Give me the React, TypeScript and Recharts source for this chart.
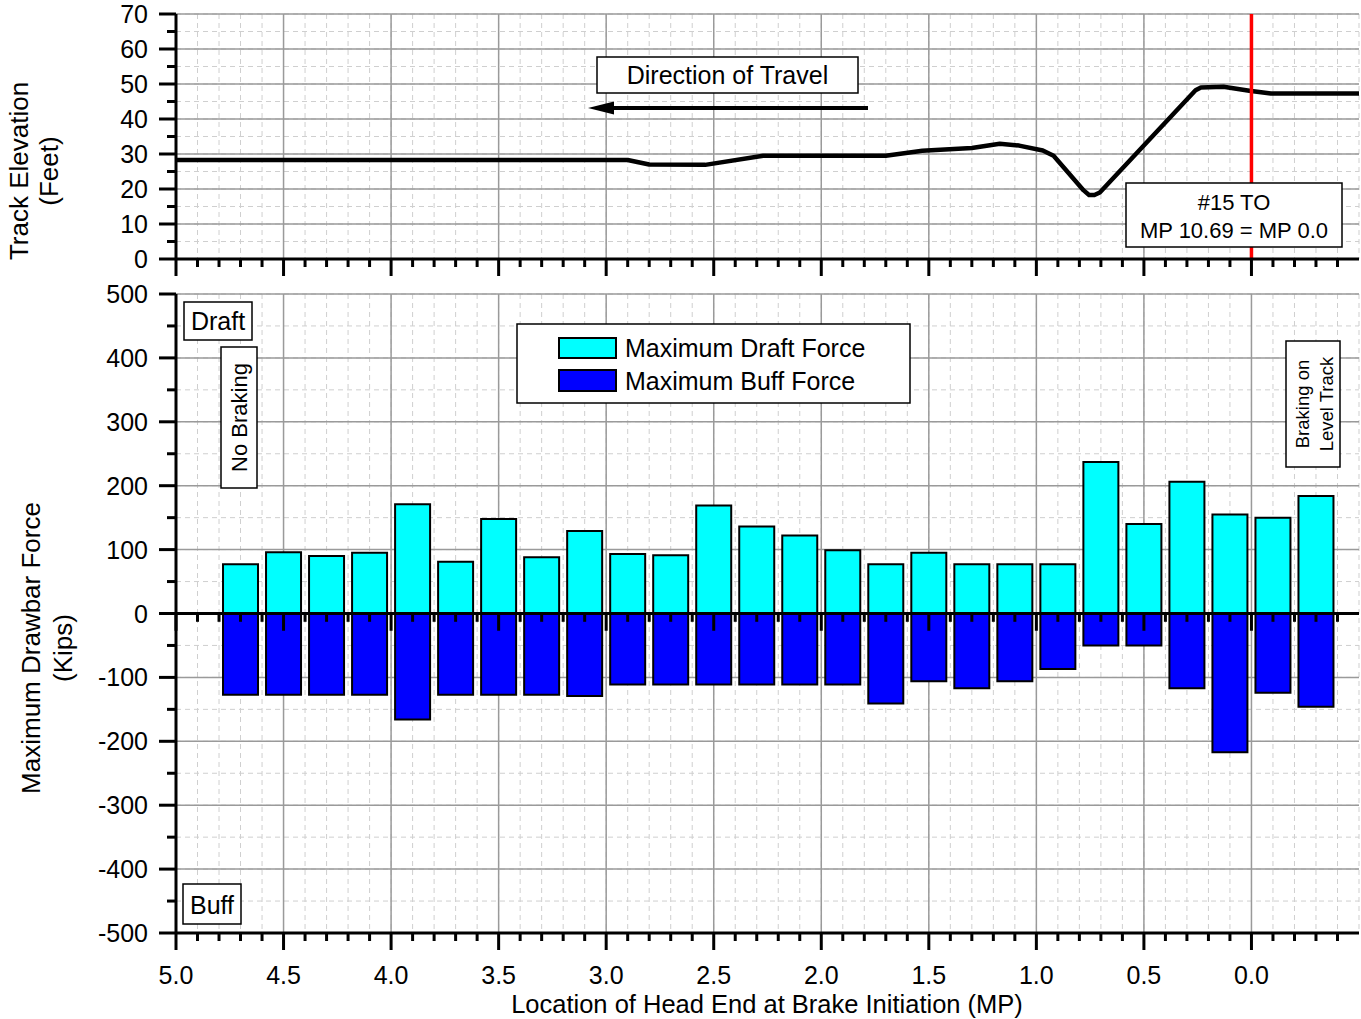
import React from 'react';
import {
  Bar,
  CartesianGrid,
  ComposedChart,
  Line,
  ReferenceLine,
  XAxis,
  YAxis,
} from 'recharts';

// Track profile (MP, feet)
const elevMp = [5.0, 2.9, 2.8, 2.54, 2.27, 1.7, 1.53, 1.3, 1.17, 1.08, 0.97, 0.92, 0.78, 0.755, 0.73, 0.705, 0.26, 0.235, 0.13, 0.01, -0.09, -0.5];
const elevFt = [28.3, 28.3, 27.0, 26.9, 29.5, 29.5, 30.9, 31.7, 32.9, 32.4, 31.0, 29.5, 19.6, 18.3, 18.3, 19.0, 48.2, 49.0, 49.2, 48.1, 47.3, 47.3];

// Drawbar forces at each brake initiation point (MP, kips)
const barMp = [4.7, 4.5, 4.3, 4.1, 3.9, 3.7, 3.5, 3.3, 3.1, 2.9, 2.7, 2.5, 2.3, 2.1, 1.9, 1.7, 1.5, 1.3, 1.1, 0.9, 0.7, 0.5, 0.3, 0.1, -0.1, -0.3];
const draft = [77, 96, 90, 95, 171, 81, 148, 88, 129, 93, 91, 169, 136, 122, 99, 77, 95, 77, 77, 77, 237, 140, 206, 155, 150, 184];
const buff = [-127, -127, -127, -127, -166, -127, -127, -127, -129, -111, -111, -111, -111, -111, -111, -141, -106, -117, -106, -87, -50, -50, -117, -217, -124, -146];

// ticks
const xTicks = Array.from({ length: 55 }, (_, i) => Math.round(50 - i) / 10); // 5.0 .. -0.4
const xMajor = [5, 4.5, 4, 3.5, 3, 2.5, 2, 1.5, 1, 0.5, 0];
const elevTicks = [0, 5, 10, 15, 20, 25, 30, 35, 40, 45, 50, 55, 60, 65, 70];
const elevMajor = [0, 10, 20, 30, 40, 50, 60, 70];
const forceTicks = Array.from({ length: 21 }, (_, i) => -500 + i * 50);
const forceMajor = [-500, -400, -300, -200, -100, 0, 100, 200, 300, 400, 500];

const FONT = '"Liberation Sans", Arial, sans-serif';
const W = 1361;

const elevData = elevMp.map((mp, i) => ({ mp, ft: elevFt[i] }));
const barData = barMp.map((mp, i) => ({ mp, draft: draft[i], buff: buff[i] }));

const isMajorX = (v: number) => Math.abs(v * 2 - Math.round(v * 2)) < 1e-6;

// map a value through an axis scale handed to a grid generator
function toPx(axis: any, v: number): number | undefined {
  const s = axis?.scale;
  if (typeof s === 'function') return s(v);
  if (s && typeof s.map === 'function') return s.map(v);
  return undefined;
}

function majorGrid(xs: number[], ys: number[], xDom: [number, number], yDom: [number, number]) {
  return {
    verticalCoordinatesGenerator: ({ xAxis, offset }: any) =>
      xs.map((v) => {
        const p = toPx(xAxis, v);
        return p ?? offset.left + ((xDom[1] - v) / (xDom[1] - xDom[0])) * offset.width;
      }),
    horizontalCoordinatesGenerator: ({ yAxis, offset }: any) =>
      ys.map((v) => {
        const p = toPx(yAxis, v);
        return p ?? offset.top + ((yDom[1] - v) / (yDom[1] - yDom[0])) * offset.height;
      }),
  };
}

function XTick(props: any) {
  const { x, y, payload, labels } = props;
  const v = payload.value as number;
  const major = isMajorX(v);
  return (
    <g>
      <line x1={x} y1={y} x2={x} y2={y + (major ? 17 : 8)} stroke="#000" strokeWidth={3} />
      {labels && major && v >= 0 ? (
        <text x={x} y={y + 51} textAnchor="middle" fontSize={25} fontFamily={FONT} fill="#000">
          {v.toFixed(1)}
        </text>
      ) : null}
    </g>
  );
}

function YTick(props: any) {
  const { x, y, payload, step } = props;
  const v = payload.value as number;
  const major = v % step === 0;
  return (
    <g>
      <line x1={x - (major ? 17 : 9)} y1={y} x2={x} y2={y} stroke="#000" strokeWidth={3} />
      {major ? (
        <text x={x - 28} y={y} dy="0.36em" textAnchor="end" fontSize={25} fontFamily={FONT} fill="#000">
          {v}
        </text>
      ) : null}
    </g>
  );
}

const axisLine = { stroke: '#000', strokeWidth: 3 };

function ElevationPanel() {
  return (
    <ComposedChart width={W} height={280} data={elevData} margin={{ top: 14, right: 2, bottom: 0, left: 116 }}>
      <CartesianGrid stroke="#cfcfcf" strokeDasharray="5 4" />
      <CartesianGrid stroke="#9a9a9a" strokeWidth={1.5} {...majorGrid(xMajor, elevMajor, [-0.5, 5], [0, 70])} />
      <XAxis
        dataKey="mp"
        type="number"
        domain={[-0.5, 5]}
        reversed
        allowDataOverflow
        ticks={xTicks}
        interval={0}
        height={21}
        tickSize={0}
        tickMargin={0}
        tickLine={false}
        axisLine={axisLine}
        tick={(p: any) => <XTick {...p} labels={false} />}
      />
      <XAxis xAxisId="top" orientation="top" type="number" domain={[-0.5, 5]} height={0} tick={false} tickLine={false} axisLine={axisLine} />
      <YAxis
        type="number"
        domain={[0, 70]}
        allowDataOverflow
        ticks={elevTicks}
        interval={0}
        width={60}
        tickSize={0}
        tickMargin={0}
        tickLine={false}
        axisLine={axisLine}
        tick={(p: any) => <YTick {...p} step={10} />}
      />
      <YAxis yAxisId="right" orientation="right" width={0} tick={false} tickLine={false} axisLine={axisLine} />
      <Line dataKey="ft" type="linear" stroke="#000" strokeWidth={4.5} strokeLinejoin="round" dot={false} isAnimationActive={false} />
      <ReferenceLine x={0} stroke="#ff0000" strokeWidth={3.5} />
    </ComposedChart>
  );
}

function ForcePanel() {
  return (
    <ComposedChart
      width={W}
      height={739}
      data={barData}
      stackOffset="sign"
      margin={{ top: 14, right: 2, bottom: 0, left: 116 }}
    >
      <CartesianGrid stroke="#cfcfcf" strokeDasharray="5 4" />
      <CartesianGrid stroke="#9a9a9a" strokeWidth={1.5} {...majorGrid(xMajor, forceMajor, [-0.5, 5], [-500, 500])} />
      <XAxis
        dataKey="mp"
        type="number"
        domain={[-0.5, 5]}
        reversed
        allowDataOverflow
        ticks={xTicks}
        interval={0}
        height={86}
        tickSize={0}
        tickMargin={0}
        tickLine={false}
        axisLine={axisLine}
        tick={(p: any) => <XTick {...p} labels />}
      />
      <XAxis xAxisId="top" orientation="top" type="number" domain={[-0.5, 5]} height={0} tick={false} tickLine={false} axisLine={axisLine} />
      <YAxis
        type="number"
        domain={[-500, 500]}
        allowDataOverflow
        ticks={forceTicks}
        interval={0}
        width={60}
        tickSize={0}
        tickMargin={0}
        tickLine={false}
        axisLine={axisLine}
        tick={(p: any) => <YTick {...p} step={100} />}
      />
      <YAxis yAxisId="right" orientation="right" width={0} tick={false} tickLine={false} axisLine={axisLine} />
      <Bar dataKey="draft" stackId="f" barSize={35} fill="#00ffff" stroke="#000" strokeWidth={2} isAnimationActive={false} />
      <Bar dataKey="buff" stackId="f" barSize={35} fill="#0000ff" stroke="#000" strokeWidth={2} isAnimationActive={false} />
      <ReferenceLine y={0} stroke="#000" strokeWidth={3} />
      {xTicks.map((v) => (
        <ReferenceLine
          key={v}
          segment={[
            { x: v, y: 0 },
            { x: v, y: isMajorX(v) ? -27 : -13 },
          ]}
          stroke="#000"
          strokeWidth={3}
        />
      ))}
    </ComposedChart>
  );
}

function Annotations() {
  const box = { fill: '#fff', stroke: '#000', strokeWidth: 1.5 };
  return (
    <svg
      width={W}
      height={1019}
      style={{ position: 'absolute', left: 0, top: 0, pointerEvents: 'none' }}
      fontFamily={FONT}
      fill="#000"
    >
      {/* axis titles */}
      <text transform="translate(28,171) rotate(-90)" textAnchor="middle" fontSize={26}>Track Elevation</text>
      <text transform="translate(58,171) rotate(-90)" textAnchor="middle" fontSize={26}>(Feet)</text>
      <text transform="translate(40,648) rotate(-90)" textAnchor="middle" fontSize={26}>Maximum Drawbar Force</text>
      <text transform="translate(72,648) rotate(-90)" textAnchor="middle" fontSize={26}>(Kips)</text>
      <text x={767} y={1013} textAnchor="middle" fontSize={25.5}>Location of Head End at Brake Initiation (MP)</text>

      {/* direction of travel */}
      <rect x={597} y={57} width={261} height={36} {...box} />
      <text x={727.5} y={84} textAnchor="middle" fontSize={25}>Direction of Travel</text>
      <line x1={868} y1={108} x2={606} y2={108} stroke="#000" strokeWidth={4} />
      <polygon points="588,108 614,101.5 614,114.5" fill="#000" />

      {/* turnout note */}
      <rect x={1126} y={183} width={216} height={64} {...box} />
      <text x={1234} y={210} textAnchor="middle" fontSize={22}>#15 TO</text>
      <text x={1234} y={238} textAnchor="middle" fontSize={22}>MP 10.69 = MP 0.0</text>

      {/* draft / buff labels */}
      <rect x={184} y={302} width={68} height={38} {...box} />
      <text x={218} y={330} textAnchor="middle" fontSize={25}>Draft</text>
      <rect x={183} y={884} width={58} height={40} {...box} />
      <text x={212} y={914} textAnchor="middle" fontSize={25}>Buff</text>

      <rect x={221} y={347} width={36} height={141} {...box} />
      <text transform="translate(247,417.5) rotate(-90)" textAnchor="middle" fontSize={22}>No Braking</text>

      <rect x={1286} y={341} width={54} height={126} {...box} />
      <text transform="translate(1309,404) rotate(-90)" textAnchor="middle" fontSize={18.5}>Braking on</text>
      <text transform="translate(1333,404) rotate(-90)" textAnchor="middle" fontSize={18.5}>Level Track</text>

      {/* legend */}
      <rect x={517} y={324} width={393} height={79} {...box} />
      <rect x={559} y={338} width={57} height={20} fill="#00ffff" stroke="#000" strokeWidth={2} />
      <text x={625} y={357} fontSize={25}>Maximum Draft Force</text>
      <rect x={559} y={370} width={57} height={21} fill="#0000ff" stroke="#000" strokeWidth={2} />
      <text x={625} y={390} fontSize={25}>Maximum Buff Force</text>
    </svg>
  );
}

export default function App() {
  return (
    <div
      style={{
        position: 'absolute',
        left: 0,
        top: 0,
        width: W,
        height: 1019,
        background: '#fff',
        fontFamily: FONT,
      }}
    >
      <div style={{ position: 'absolute', left: 0, top: 0 }}>
        <ElevationPanel />
      </div>
      <div style={{ position: 'absolute', left: 0, top: 280 }}>
        <ForcePanel />
      </div>
      <Annotations />
    </div>
  );
}
